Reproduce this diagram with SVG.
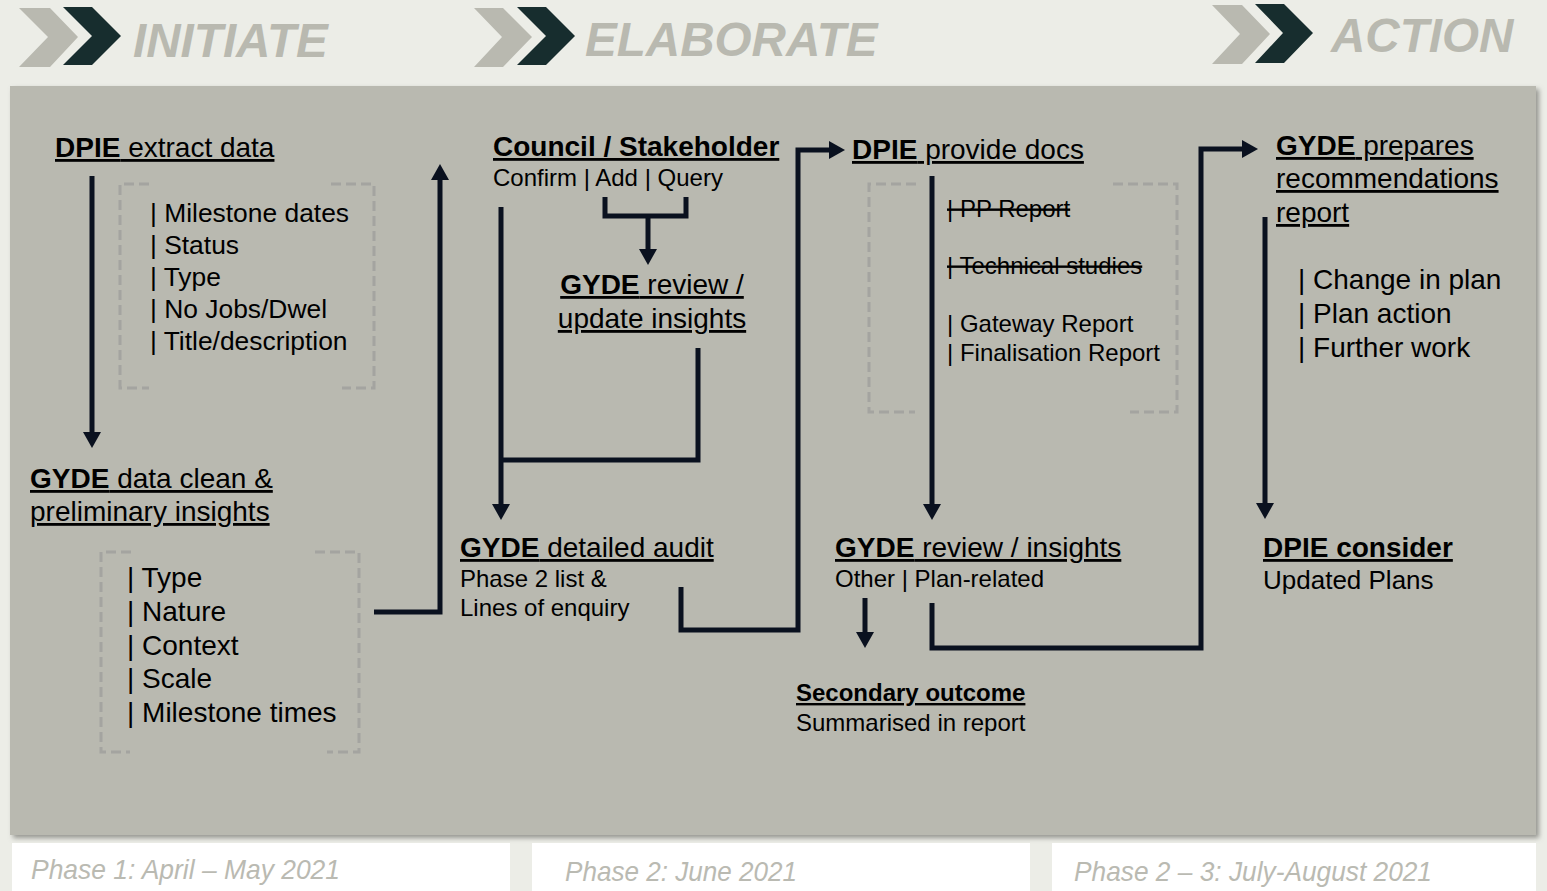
<svg xmlns="http://www.w3.org/2000/svg" width="1547" height="891" viewBox="0 0 1547 891">
<defs>
<style>
text{font-family:"Liberation Sans",Arial,sans-serif;fill:#000}
.hdr{font-size:47.6px;font-weight:bold;font-style:italic;fill:#B9B9B0}
.ph{font-size:28px;font-style:italic;fill:#BABAB2}
.h{font-size:28px;text-decoration:underline}
.hs{font-size:24px;text-decoration:underline;font-weight:bold}
.b{font-weight:bold}
.s24{font-size:24px}
.s26{font-size:26px}
.s263{font-size:26.4px}
.s28{font-size:28px}
.st{text-decoration:line-through}
.con{fill:none;stroke:#0A111F;stroke-width:5}
.dash{fill:none;stroke:#A4A4A0;stroke-width:3;stroke-dasharray:10 5}
.lc{fill:#B9B9B0}
.dc{fill:#172D2E}
</style>
<marker id="ah" viewBox="0 0 16 18" refX="0" refY="9" markerWidth="16" markerHeight="18" markerUnits="userSpaceOnUse" orient="auto">
<path d="M0,0 L16,9 L0,18 z" fill="#0A111F"/>
</marker>
<filter id="sh" x="-5%" y="-5%" width="110%" height="110%">
<feDropShadow dx="3" dy="3" stdDeviation="2.5" flood-color="#6f6f6a" flood-opacity="0.7"/>
</filter>
</defs>
<rect x="0" y="0" width="1547" height="891" fill="#ECEDE7"/>

<g id="header-initiate">
<polygon class="lc" points="19,8 50,8 78,37 50,67 19,67 48,37"/>
<polygon class="dc" points="63,7 92,7 121,36 92,65 63,65 92,36"/>
<text class="hdr" x="133" y="57">INITIATE</text>
</g>
<g id="header-elaborate">
<polygon class="lc" points="474,8 503,8 532,37 503,67 474,67 502,37"/>
<polygon class="dc" points="517,7 546,7 575,36 546,65 517,65 546,36"/>
<text class="hdr" x="585" y="56">ELABORATE</text>
</g>
<g id="header-action">
<polygon class="lc" points="1212,5 1242,5 1270,34 1242,64 1212,64 1240,34"/>
<polygon class="dc" points="1255,4 1284,4 1313,33 1284,63 1255,63 1283,33"/>
<text class="hdr" x="1331" y="52">ACTION</text>
</g>

<rect id="panel" x="10" y="86" width="1526" height="749" fill="#B9B9B0" filter="url(#sh)"/>

<g id="phases">
<rect x="12" y="843" width="498" height="48" fill="#FFFFFF"/>
<rect x="532" y="843" width="498" height="48" fill="#FFFFFF"/>
<rect x="1052" y="843" width="484" height="48" fill="#FFFFFF"/>
<text class="ph" x="31" y="879" textLength="309" lengthAdjust="spacingAndGlyphs">Phase 1: April – May 2021</text>
<text class="ph" x="565" y="881" textLength="232" lengthAdjust="spacingAndGlyphs">Phase 2: June 2021</text>
<text class="ph" x="1074" y="881" textLength="358" lengthAdjust="spacingAndGlyphs">Phase 2 – 3: July-August 2021</text>
</g>

<g id="brackets">
<path class="dash" d="M149,184 H120 V388 H149"/>
<path class="dash" d="M331,184 H374 V388 H342"/>
<path class="dash" d="M131,552 H101 V752 H130"/>
<path class="dash" d="M315,552 H359 V752 H327"/>
<path class="dash" d="M916,184 H869 V412 H915"/>
<path class="dash" d="M1113,184 H1177 V412 H1130"/>
</g>

<g id="connectors">
<path class="con" d="M92,176 V432" marker-end="url(#ah)"/>
<path class="con" d="M374,612 H440 V180" marker-end="url(#ah)"/>
<path class="con" d="M605,197 V216 H686 V197"/>
<path class="con" d="M648,216 V249" marker-end="url(#ah)"/>
<path class="con" d="M501,207 V504" marker-end="url(#ah)"/>
<path class="con" d="M698,348 V460 H501"/>
<path class="con" d="M681,587 V630 H798 V150 H829" marker-end="url(#ah)"/>
<path class="con" d="M932,176 V504" marker-end="url(#ah)"/>
<path class="con" d="M865,598 V632" marker-end="url(#ah)"/>
<path class="con" d="M932,603 V648 H1201 V149 H1242" marker-end="url(#ah)"/>
<path class="con" d="M1265,217 V503" marker-end="url(#ah)"/>
</g>

<g id="node-dpie-extract">
<text class="h" x="55" y="157"><tspan class="b">DPIE</tspan> extract data</text>
<text class="s263" x="150" y="222">| Milestone dates</text>
<text class="s263" x="150" y="254">| Status</text>
<text class="s263" x="150" y="286">| Type</text>
<text class="s263" x="150" y="318">| No Jobs/Dwel</text>
<text class="s263" x="150" y="350">| Title/description</text>
</g>

<g id="node-gyde-clean">
<text class="h" x="30" y="488"><tspan class="b">GYDE</tspan> data clean &amp;</text>
<text class="h" x="30" y="521">preliminary insights</text>
<text class="s28" x="127" y="587">| Type</text>
<text class="s28" x="127" y="621">| Nature</text>
<text class="s28" x="127" y="655">| Context</text>
<text class="s28" x="127" y="688">| Scale</text>
<text class="s28" x="127" y="722">| Milestone times</text>
</g>

<g id="node-council">
<text class="h b" x="493" y="156">Council / Stakeholder</text>
<text class="s24" x="493" y="186">Confirm | Add | Query</text>
</g>

<g id="node-gyde-review-update">
<text class="h" x="652" y="294" text-anchor="middle"><tspan class="b">GYDE</tspan> review /</text>
<text class="h" x="652" y="328" text-anchor="middle">update insights</text>
</g>

<g id="node-gyde-audit">
<text class="h" x="460" y="557"><tspan class="b">GYDE</tspan> detailed audit</text>
<text class="s24" x="460" y="587">Phase 2 list &amp;</text>
<text class="s24" x="460" y="616">Lines of enquiry</text>
</g>

<g id="node-dpie-docs">
<text class="h" x="852" y="159"><tspan class="b">DPIE</tspan> provide docs</text>
<text class="s24 st" x="947" y="217">| PP Report</text>
<text class="s24 st" x="947" y="274">| Technical studies</text>
<text class="s24" x="947" y="332">| Gateway Report</text>
<text class="s24" x="947" y="361">| Finalisation Report</text>
</g>

<g id="node-gyde-review-insights">
<text class="h" x="835" y="557"><tspan class="b">GYDE</tspan> review / insights</text>
<text class="s24" x="835" y="587">Other | Plan-related</text>
</g>

<g id="node-secondary">
<text class="hs" x="796" y="701">Secondary outcome</text>
<text class="s24" x="796" y="731">Summarised in report</text>
</g>

<g id="node-gyde-prepares">
<text class="h" x="1276" y="155"><tspan class="b">GYDE</tspan> prepares</text>
<text class="h" x="1276" y="188">recommendations</text>
<text class="h" x="1276" y="222">report</text>
<text class="s28" x="1298" y="289">| Change in plan</text>
<text class="s28" x="1298" y="323">| Plan action</text>
<text class="s28" x="1298" y="357">| Further work</text>
</g>

<g id="node-dpie-consider">
<text class="h b" x="1263" y="557">DPIE consider</text>
<text class="s26" x="1263" y="589">Updated Plans</text>
</g>
</svg>
